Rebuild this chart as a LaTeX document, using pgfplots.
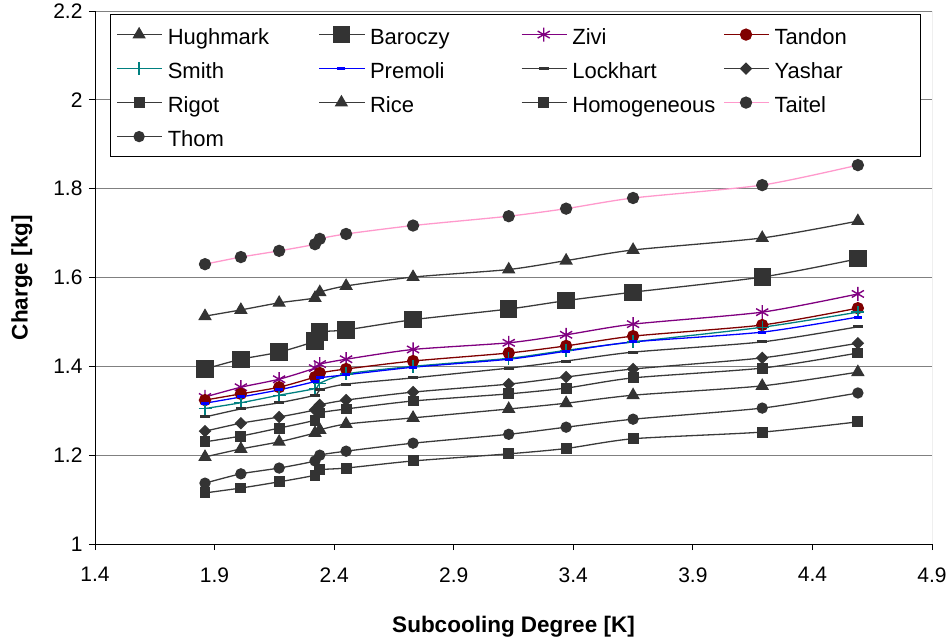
\documentclass[border=0pt]{standalone}
\usepackage{fontspec}
\setmainfont{Liberation Sans}
\usepackage{pgfplots}
\usepackage{pgfplotstable}
\pgfplotsset{compat=1.18}

\definecolor{mk}{HTML}{333333}
\definecolor{ln}{HTML}{3A3A3A}
\definecolor{zivi}{HTML}{800080}
\definecolor{tandon}{HTML}{800000}
\definecolor{smith}{HTML}{008080}
\definecolor{premoli}{HTML}{0000FF}
\definecolor{taitel}{HTML}{FF99CC}
\definecolor{gridc}{HTML}{808080}

% charge [kg] vs subcooling degree [K], one column per void fraction model
\pgfplotstableread{
x     Hughmark Baroczy Zivi  Tandon Smith Premoli Lockhart Yashar Rigot Rice  Homogeneous Taitel Thom
1.86  1.513    1.394   1.331 1.324  1.305 1.317   1.286    1.254  1.230 1.196 1.115       1.630  1.137
2.01  1.527    1.416   1.353 1.338  1.318 1.331   1.304    1.272  1.243 1.214 1.126       1.646  1.158
2.17  1.543    1.432   1.371 1.353  1.335 1.347   1.318    1.286  1.261 1.230 1.140       1.660  1.171
2.32  1.554    1.457   1.396 1.376  1.350 1.366   1.335    1.302  1.279 1.250 1.155       1.675  1.187
2.34  1.567    1.477   1.405 1.385  1.362 1.374   1.347    1.313  1.295 1.257 1.167       1.687  1.200
2.45  1.581    1.482   1.416 1.394  1.383 1.381   1.360    1.324  1.304 1.270 1.171       1.698  1.209
2.73  1.601    1.505   1.438 1.412  1.400 1.398   1.374    1.342  1.322 1.284 1.187       1.717  1.227
3.13  1.618    1.529   1.453 1.430  1.418 1.416   1.396    1.360  1.338 1.304 1.203       1.738  1.247
3.37  1.638    1.548   1.471 1.446  1.436 1.434   1.412    1.376  1.351 1.317 1.215       1.755  1.263
3.65  1.662    1.567   1.495 1.468  1.455 1.455   1.432    1.394  1.374 1.335 1.237       1.779  1.281
4.19  1.689    1.601   1.522 1.493  1.488 1.477   1.455    1.419  1.396 1.356 1.252       1.808  1.306
4.59  1.727    1.642   1.563 1.531  1.522 1.511   1.489    1.452  1.430 1.387 1.275       1.853  1.340
}\charge

\begin{document}
\begin{tikzpicture}
\begin{axis}[
    scale only axis,
    width=837pt, height=533pt,
    xmin=1.4, xmax=4.9, ymin=1, ymax=2.2,
    xtick={1.4,1.9,2.4,2.9,3.4,3.9,4.4,4.9},
    ytick={1,1.2,1.4,1.6,1.8,2,2.2},
    axis x line*=bottom, axis y line*=left,
    axis line style={-, black, line width=0.8pt},
    tick align=outside, major tick length=6pt,
    tick style={black, line width=0.8pt},
    ymajorgrids, grid style={gridc, line width=0.9pt},
    /pgf/number format/assume math mode=true,
    /pgf/number format/fixed,
    ticklabel style={font=\fontsize{21}{25}\selectfont},
    xticklabel style={yshift=-14pt},
    yticklabel style={xshift=-3pt},
    xlabel={\textbf{Subcooling Degree [K]}},
    ylabel={\textbf{Charge [kg]}},
    label style={font=\fontsize{22.5}{27}\selectfont},
    xlabel style={yshift=-27pt},
    ylabel style={yshift=14pt},
    every axis plot/.append style={smooth, tension=0.4, line width=1.3pt},
    legend columns=4,
    legend cell align=left,
    legend style={at={(0.018,0.994)}, anchor=north west,
        draw=black, line width=0.8pt, fill=white,
        font=\fontsize{22}{26}\selectfont,
        inner xsep=6pt, inner ysep=7.5pt,
        nodes={inner sep=0pt, text width=140pt, text height=22pt, text depth=3pt},
        row sep=9pt,
        /tikz/every odd column/.append style={column sep=5pt},
        /tikz/every even column/.append style={column sep=11pt}},
    legend image code/.code={
        \draw[mark repeat=2, mark phase=2, line width=1.3pt]
            plot coordinates {(0pt,0pt) (22pt,0pt) (45pt,0pt)};},
]
\addplot[ln, mark=triangle*, mark size=6.5pt, mark options={mk, solid}] table[y=Hughmark] {\charge};
\addlegendentry{Hughmark}
\addplot[ln, mark=square*, mark size=8pt, mark options={mk}] table[y=Baroczy] {\charge};
\addlegendentry{Baroczy}
\addplot[zivi, mark=asterisk, mark size=7pt, mark options={zivi, line width=1.4pt}] table[y=Zivi] {\charge};
\addlegendentry{Zivi}
\addplot[tandon, mark=*, mark size=5.5pt, mark options={tandon}] table[y=Tandon] {\charge};
\addlegendentry{Tandon}
\addplot[smith, mark=+, mark size=6.5pt, mark options={smith, line width=1.3pt}] table[y=Smith] {\charge};
\addlegendentry{Smith}
\addplot[premoli, mark=-, mark size=4pt, mark options={premoli, line width=3pt}] table[y=Premoli] {\charge};
\addlegendentry{Premoli}
\addplot[ln, mark=-, mark size=5pt, mark options={mk, line width=3pt}] table[y=Lockhart] {\charge};
\addlegendentry{Lockhart}
\addplot[ln, mark=square*, mark size=3.8pt, mark options={mk, rotate=45}] table[y=Yashar] {\charge};
\addlegendentry{Yashar}
\addplot[ln, mark=square*, mark size=4.8pt, mark options={mk}] table[y=Rigot] {\charge};
\addlegendentry{Rigot}
\addplot[ln, mark=triangle*, mark size=6.5pt, mark options={mk}] table[y=Rice] {\charge};
\addlegendentry{Rice}
\addplot[ln, mark=square*, mark size=4.8pt, mark options={mk}] table[y=Homogeneous] {\charge};
\addlegendentry{Homogeneous}
\addplot[taitel, mark=*, mark size=5.5pt, mark options={mk}] table[y=Taitel] {\charge};
\addlegendentry{Taitel}
\addplot[ln, mark=*, mark size=5pt, mark options={mk}] table[y=Thom] {\charge};
\addlegendentry{Thom}
\draw[gridc, line width=0.9pt] (rel axis cs:1,0) -- (rel axis cs:1,1);
\end{axis}
\pgfresetboundingbox
\path (-95pt,-96pt) rectangle (854pt,544pt);
\end{tikzpicture}
\end{document}
